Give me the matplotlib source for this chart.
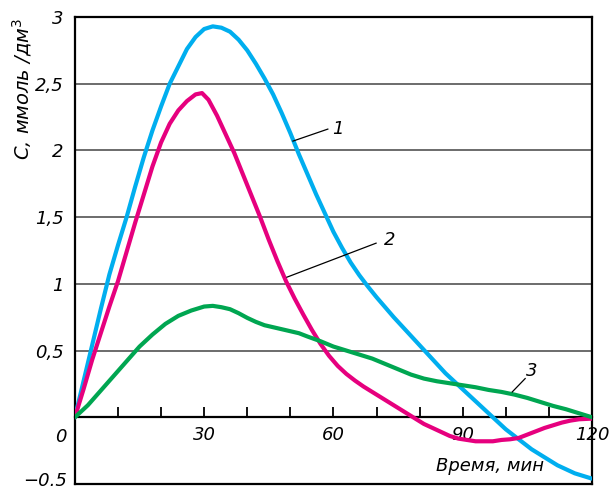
import matplotlib.pyplot as plt
from matplotlib.ticker import FixedLocator, FixedFormatter

# кривая 1 (голубая)
t1 = [0, 2, 4, 6, 8, 10, 12, 14, 16, 18, 20, 22, 24, 26, 28, 30, 32, 34, 36, 38, 40,
      42, 44, 46, 48, 50, 52, 54, 56, 58, 60, 62, 64, 66, 68, 70, 72, 74, 76, 78, 80,
      82, 84, 86, 88, 90, 92, 94, 96, 98, 100, 102, 104, 106, 108, 110, 112, 114, 116, 118, 120]
c1 = [0, 0.27, 0.54, 0.81, 1.07, 1.29, 1.5, 1.73, 1.95, 2.15, 2.33, 2.5, 2.63, 2.76, 2.85, 2.91, 2.93, 2.92, 2.89, 2.83, 2.75,
      2.65, 2.54, 2.42, 2.28, 2.13, 1.97, 1.82, 1.67, 1.53, 1.39, 1.27, 1.16, 1.065, 0.98, 0.9, 0.825, 0.75, 0.68, 0.61, 0.54,
      0.47, 0.40, 0.33, 0.27, 0.21, 0.15, 0.09, 0.03, -0.03, -0.09, -0.14, -0.19, -0.24, -0.28, -0.32, -0.36, -0.39, -0.42, -0.44, -0.46]

# кривая 2 (малиновая)
t2 = [0, 2, 4, 6, 8, 10, 12, 14, 16, 18, 20, 22, 24, 26, 28, 29.5, 31, 33, 35, 37, 39, 41, 43, 45, 47, 49,
      51, 53, 55, 57, 59, 61, 63, 65, 67, 69, 71, 73, 75, 77, 79, 81, 83, 85, 87, 89, 91, 93, 95, 97, 99,
      101, 103, 105, 107, 109, 111, 113, 115, 117, 120]
c2 = [0, 0.21, 0.43, 0.63, 0.83, 1.02, 1.24, 1.46, 1.67, 1.88, 2.06, 2.2, 2.3, 2.37, 2.42, 2.43, 2.38, 2.26, 2.12, 1.98, 1.82, 1.66, 1.5, 1.33, 1.17, 1.02,
      0.89, 0.77, 0.655, 0.55, 0.46, 0.385, 0.325, 0.275, 0.23, 0.19, 0.15, 0.11, 0.07, 0.03, -0.01, -0.05, -0.08, -0.11, -0.14, -0.16, -0.17, -0.18, -0.18, -0.18, -0.17,
      -0.165, -0.155, -0.13, -0.105, -0.08, -0.06, -0.04, -0.025, -0.015, -0.01]

# кривая 3 (зелёная)
t3 = [0, 3, 6, 9, 12, 15, 18, 21, 24, 27, 30, 32, 34, 36, 38, 40, 42, 44, 46, 48, 50, 52, 54, 57, 60,
      63, 66, 69, 72, 75, 78, 81, 84, 87, 90, 93, 96, 99, 102, 105, 108, 111, 114, 117, 120]
c3 = [0, 0.09, 0.2, 0.31, 0.42, 0.53, 0.62, 0.7, 0.76, 0.8, 0.83, 0.835, 0.825, 0.81, 0.78, 0.745, 0.715, 0.69, 0.675, 0.66, 0.645, 0.63, 0.605, 0.57, 0.53,
      0.5, 0.47, 0.44, 0.4, 0.36, 0.32, 0.29, 0.27, 0.255, 0.24, 0.225, 0.205, 0.19, 0.17, 0.145, 0.115, 0.085, 0.06, 0.03, 0]

x_major = [30, 60, 90, 120]
x_major_labels = ['30', '60', '90', '120']
x_minor = [10, 20, 40, 50, 70, 80, 100, 110]
y_ticks = [0.5, 1, 1.5, 2, 2.5, 3]
y_tick_labels = ['0,5', '1', '1,5', '2', '2,5', '3']

fs = 13
fig = plt.figure(figsize=(6.09, 4.92), dpi=100)
ax = fig.add_axes([0.123, 0.0163, 0.849, 0.9491])

style = dict(lw=3, solid_capstyle='round', solid_joinstyle='round', zorder=3)
ax.plot(t1, c1, color='#00aeef', **style)
ax.plot(t2, c2, color='#e6007e', **style)
ax.plot(t3, c3, color='#00a651', **style)

ax.set_xlim(0, 120)
ax.set_ylim(-0.5, 3)

# сетка
for yv in [0.5, 1, 1.5, 2, 2.5]:
    ax.axhline(yv, color='#444444', lw=1.1, zorder=1)

for s in ['left', 'right', 'top']:
    ax.spines[s].set_linewidth(1.6)
ax.spines['bottom'].set_position(('data', 0))
ax.spines['bottom'].set_linewidth(1.6)
ax.plot([0, 1], [0, 0], transform=ax.transAxes, color='black', lw=1.6, clip_on=False)

ax.xaxis.set_major_locator(FixedLocator(x_major))
ax.xaxis.set_major_formatter(FixedFormatter(x_major_labels))
ax.xaxis.set_minor_locator(FixedLocator(x_minor))
ax.tick_params(axis='x', which='both', direction='in', length=7, width=1.3, pad=6)
ax.tick_params(axis='x', labelsize=fs)

ax.set_yticks(y_ticks)
ax.set_yticklabels(y_tick_labels)
ax.tick_params(axis='y', length=0, pad=8, labelsize=fs)

for lab in ax.get_xticklabels() + ax.get_yticklabels():
    lab.set_fontstyle('italic')

ax.annotate('0', xy=(0, 0), xytext=(-6, -8), textcoords='offset points',
            ha='right', va='top', fontsize=fs, style='italic')
ax.annotate('\u22120.5', xy=(0, -0.5), xytext=(-6, 2), textcoords='offset points',
            ha='right', va='center', fontsize=fs, style='italic')

ax.text(-0.1025, 0.845, 'C, ммоль /дм$^{\\mathit{3}}$', transform=ax.transAxes,
        rotation=90, ha='center', va='center', fontsize=14, style='italic')
ax.text(0.803, 0.0385, 'Время, мин', transform=ax.transAxes,
        ha='center', va='center', fontsize=fs, style='italic')

# подписи кривых
ax.plot([50.6, 58.7], [2.07, 2.16], color='black', lw=0.9, zorder=4)
ax.text(61, 2.16, '1', fontsize=fs, style='italic', ha='center', va='center')
ax.plot([49.2, 69.9], [1.05, 1.305], color='black', lw=0.9, zorder=4)
ax.text(73, 1.33, '2', fontsize=fs, style='italic', ha='center', va='center')
ax.plot([101.5, 104.5], [0.19, 0.29], color='black', lw=0.9, zorder=4)
ax.text(106, 0.35, '3', fontsize=fs, style='italic', ha='center', va='center')

fig.savefig('out.png', dpi=100)
